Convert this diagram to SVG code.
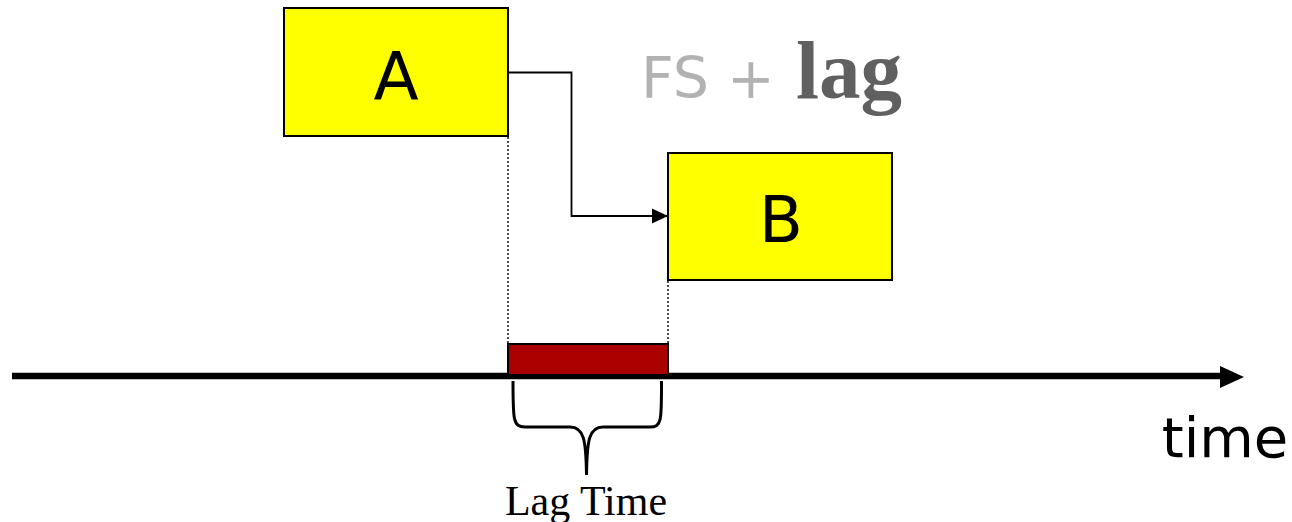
<svg xmlns="http://www.w3.org/2000/svg" width="1292" height="522" viewBox="0 0 1292 522">
<style>
.box{fill:#FFFF00;stroke:#000;stroke-width:2}
.lbl{font-family:"DejaVu Sans",sans-serif;fill:#000;text-anchor:middle}
.dot{stroke:#222;stroke-width:1.6;stroke-dasharray:2 2;fill:none}
</style>
<defs>
<marker id="ah" markerWidth="16" markerHeight="16" refX="16" refY="8" orient="auto" markerUnits="userSpaceOnUse">
<path d="M0,0.5 L16,8 L0,15.5 Z" fill="#000"/>
</marker>
</defs>
<rect width="1292" height="522" fill="#fff"/>
<g id="nodeA">
<rect class="box" x="284" y="8" width="224" height="128"/>
<text class="lbl" x="396" y="99" font-size="66">A</text>
</g>
<g id="nodeB">
<rect class="box" x="668" y="153" width="224" height="127"/>
<text class="lbl" x="781" y="242" font-size="64">B</text>
</g>
<g id="title">
<text x="641" y="98" font-family="DejaVu Sans,sans-serif" font-size="57" fill="#B2B2B2">FS +</text>
<text x="796" y="98" font-family="Liberation Serif,serif" font-weight="bold" font-size="83" fill="#606060">lag</text>
</g>
<g id="connectors">
<polyline points="508,72.5 571.5,72.5 571.5,216 668,216" fill="none" stroke="#000" stroke-width="1.8" marker-end="url(#ah)"/>
<line class="dot" x1="508" y1="137" x2="508" y2="344"/>
<line class="dot" x1="668" y1="281" x2="668" y2="344"/>
</g>
<g id="timeline">
<line x1="12" y1="376" x2="1222" y2="376" stroke="#000" stroke-width="6.5"/>
<path d="M1220,366 L1244,377 L1220,388 Z" fill="#000"/>
<rect x="508" y="344" width="160" height="31" fill="#AA0000" stroke="#000" stroke-width="2"/>
<text x="1225" y="457" font-family="DejaVu Sans,sans-serif" font-size="56" text-anchor="middle" fill="#000">time</text>
</g>
<g id="lagtime">
<path d="M513,381 C513,420 513,427 525,427 L570,427 C584,427 586,440 586.5,475 C587,440 589,427 603,427 L650,427 C662,427 661.5,420 661.5,381" fill="none" stroke="#000" stroke-width="3"/>
<text x="586" y="515" font-family="Liberation Serif,serif" font-size="42" text-anchor="middle" fill="#000">Lag Time</text>
</g>
</svg>
